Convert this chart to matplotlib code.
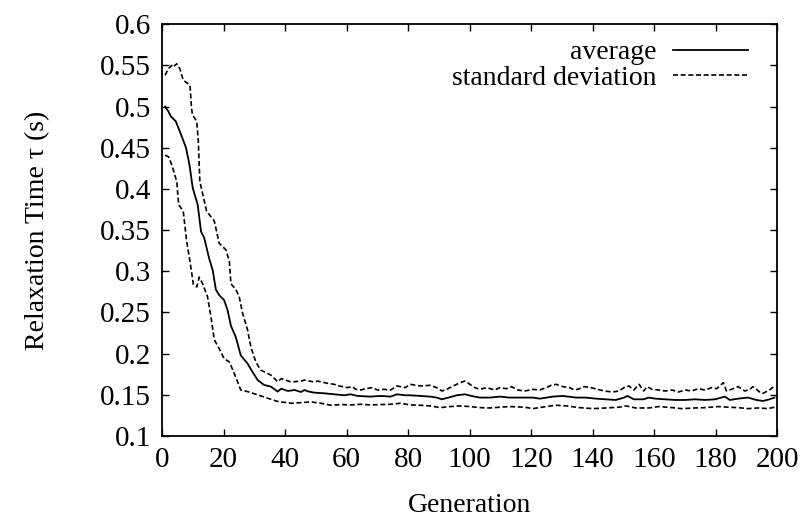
import matplotlib
matplotlib.use('Agg')
import matplotlib.pyplot as plt

# values (generation, relaxation time in s)
avg_gen = [1.0, 2.1, 2.9, 4.5, 6.2, 7.8, 8.9, 10.0, 11.6, 12.7, 13.7, 15.3, 16.5, 17.5, 18.6,
           20.2, 21.3, 22.4, 24.0, 25.6, 27.8, 29.4, 31.1, 33.2, 35.4, 37.6,
           38.8, 40.9, 43.1, 45.2, 46.3, 47.4, 49.5, 52.8, 56.0, 59.2, 61.4, 63.5, 67.8, 71.1,
           74.3, 76.4, 79.1, 80.7, 84.0, 87.2, 89.3, 91.0, 93.1, 95.8, 98.5, 100.6, 103.3,
           106.6, 109.8, 113.0, 117.9, 120.6, 122.8, 127.1, 130.3, 134.6, 137.8, 141.1, 144.3,
           147.5, 150.2, 151.3, 153.4, 156.6, 158.2, 160.4, 163.6, 166.8, 170.1, 173.3, 176.5,
           179.8, 183.0, 184.6, 187.3, 190.5, 193.2, 195.4, 197.5, 199.1]
avg_val = [0.500, 0.494, 0.488, 0.482, 0.466, 0.450, 0.430, 0.401, 0.381, 0.348, 0.341, 0.316,
           0.301, 0.278, 0.271, 0.265, 0.253, 0.234, 0.220, 0.198, 0.188, 0.178, 0.168, 0.162,
           0.160, 0.154,
           0.1575, 0.1547, 0.1559, 0.1535, 0.1559, 0.1543, 0.1527, 0.1519, 0.1507, 0.1495, 0.1507,
           0.1487, 0.1479, 0.1487, 0.1479, 0.1507, 0.1495, 0.1495, 0.1487, 0.1479, 0.1467, 0.1446,
           0.1467, 0.1495, 0.1507, 0.1487, 0.1467, 0.1467, 0.1479, 0.1467, 0.1467, 0.1467, 0.1454,
           0.1479, 0.1487, 0.1467, 0.1467, 0.1454, 0.1446, 0.1438, 0.1467, 0.1487, 0.1446, 0.1446,
           0.1467, 0.1454, 0.1446, 0.1438, 0.1438, 0.1446, 0.1438, 0.1446, 0.1479, 0.1438, 0.1454,
           0.1467, 0.1438, 0.1426, 0.1446, 0.1467]

upper_gen = [1.0, 2.1, 3.2, 3.6, 4.8, 5.8, 6.9, 9.1, 9.6, 9.9, 11.3, 11.8, 12.3, 14.5, 17.0,
             18.6, 20.8, 21.9, 22.4, 24.0, 25.1, 26.2, 27.8, 28.9, 30.5, 32.1, 35.4, 37.6,
             38.8, 42.0, 45.2, 46.3, 49.5, 50.6, 53.8, 56.0, 57.6, 60.3, 61.9, 63.0, 64.6, 66.2,
             68.4, 70.0, 72.1, 74.3, 76.4, 79.1, 80.7, 84.0, 87.2, 89.3, 91.0, 92.6, 94.2, 95.8,
             96.9, 98.5, 100.1, 101.7, 103.3, 105.5, 108.2, 109.8, 112.0, 113.6, 115.7, 117.9,
             120.6, 122.8, 124.9, 126.5, 128.1, 130.3, 132.5, 134.1, 135.7, 137.3, 139.4, 141.6,
             143.8, 146.4, 148.6, 150.2, 151.8, 153.4, 155.1, 156.6, 157.7, 159.3, 161.5, 163.6,
             165.8, 167.9, 170.1, 172.2, 174.4, 176.5, 178.7, 180.3, 182.5, 183.5, 185.1, 187.3,
             189.5, 191.1, 192.1, 194.3, 195.4, 197.5, 199.1]
upper_val = [0.538, 0.546, 0.550, 0.548, 0.552, 0.546, 0.532, 0.526, 0.498, 0.490, 0.482, 0.458,
             0.409, 0.373, 0.361, 0.334, 0.326, 0.312, 0.285, 0.278, 0.269, 0.249, 0.229, 0.208,
             0.190, 0.180, 0.174, 0.166,
             0.1697, 0.1656, 0.1668, 0.1680, 0.1656, 0.1668, 0.1640, 0.1628, 0.1608, 0.1588,
             0.1600, 0.1567, 0.1559, 0.1575, 0.1588, 0.1559, 0.1567, 0.1559, 0.1608, 0.1588,
             0.1628, 0.1608, 0.1616, 0.1588, 0.1547, 0.1567, 0.1600, 0.1628, 0.1648, 0.1668,
             0.1628, 0.1588, 0.1567, 0.1588, 0.1559, 0.1588, 0.1575, 0.1600, 0.1559, 0.1547,
             0.1567, 0.1559, 0.1588, 0.1616, 0.1628, 0.1600, 0.1588, 0.1559, 0.1575, 0.1600,
             0.1588, 0.1567, 0.1547, 0.1535, 0.1547, 0.1588, 0.1608, 0.1559, 0.1628, 0.1547,
             0.1600, 0.1567, 0.1559, 0.1547, 0.1559, 0.1535, 0.1559, 0.1547, 0.1575, 0.1559,
             0.1588, 0.1575, 0.1648, 0.1547, 0.1567, 0.1600, 0.1547, 0.1567, 0.1600, 0.1535,
             0.1519, 0.1559, 0.1608]

lower_gen = [1.0, 2.1, 3.2, 4.8, 5.4, 6.9, 8.0, 9.1, 10.2, 11.3, 12.1, 13.2, 14.8, 15.9, 17.0,
             18.6, 20.2, 21.9, 23.5, 25.6, 27.8, 31.1, 34.3, 37.6,
             38.8, 42.0, 45.2, 48.5, 51.7, 54.9, 58.1, 61.4, 64.6, 67.8, 71.1, 74.3, 77.5,
             80.7, 84.0, 87.2, 90.4, 93.7, 96.9, 100.1, 103.3, 106.6, 109.8, 113.0, 117.9,
             120.6, 124.9, 128.1, 131.4, 135.7, 140.0, 144.3, 148.6, 150.8, 154.0,
             158.2, 161.5, 165.8, 169.0, 173.3, 176.5, 180.8, 184.1, 187.3, 190.5, 193.8, 197.0,
             199.1]
lower_val = [0.441, 0.439, 0.429, 0.409, 0.381, 0.373, 0.337, 0.312, 0.284, 0.281, 0.293, 0.285,
             0.269, 0.245, 0.217, 0.206, 0.194, 0.190, 0.176, 0.156, 0.154, 0.150, 0.146, 0.142,
             0.1414, 0.1398, 0.1406, 0.1414, 0.1398, 0.1374, 0.1382, 0.1378, 0.1386, 0.1378,
             0.1382, 0.1386, 0.1398, 0.1378, 0.1374, 0.1366, 0.1345, 0.1358, 0.1366, 0.1358,
             0.1345, 0.1341, 0.1350, 0.1358, 0.1350, 0.1333, 0.1358, 0.1374, 0.1366, 0.1345,
             0.1333, 0.1341, 0.1350, 0.1366, 0.1341, 0.1341, 0.1358, 0.1345, 0.1333, 0.1341,
             0.1345, 0.1358, 0.1350, 0.1345, 0.1333, 0.1341, 0.1333, 0.1350]

x_ticks = list(range(0, 201, 20))
y_ticks = [0.1, 0.15, 0.2, 0.25, 0.3, 0.35, 0.4, 0.45, 0.5, 0.55, 0.6]
y_tick_labels = ['0.1', '0.15', '0.2', '0.25', '0.3', '0.35', '0.4', '0.45', '0.5', '0.55', '0.6']

plt.rcParams['font.family'] = ['Liberation Serif', 'DejaVu Serif']
plt.rcParams['font.size'] = 20

fig = plt.figure(figsize=(8, 5.26), dpi=100)
ax = fig.add_axes([0.2025, 0.171, 0.769, 0.783])

dash = (0, (3, 1.6))
ax.plot(avg_gen, avg_val, color='black', lw=1.3, label='average')
ax.plot(upper_gen, upper_val, color='black', lw=1.2, linestyle=dash, label='standard deviation')
ax.plot(lower_gen, lower_val, color='black', lw=1.2, linestyle=dash)

ax.set_xlim(0, 200)
ax.set_ylim(0.1, 0.6)
ax.set_xticks(x_ticks)
ax.set_yticks(y_ticks)
ax.set_yticklabels(y_tick_labels)
ax.tick_params(direction='in', length=5, width=1, top=True, right=True,
               labelsize=21, pad=8)
for s in ax.spines.values():
    s.set_linewidth(1.3)

ax.set_xlabel('Generation', fontsize=20, labelpad=14)
ax.set_ylabel('Relaxation Time τ (s)', fontsize=20, labelpad=36)

ax.legend(loc='upper right', bbox_to_anchor=(0.953, 0.962), frameon=False,
          markerfirst=False, handlelength=2.7, handletextpad=0.6,
          labelspacing=0.0, borderpad=0, borderaxespad=0, fontsize=20)

fig.savefig('out.png', dpi=100)
